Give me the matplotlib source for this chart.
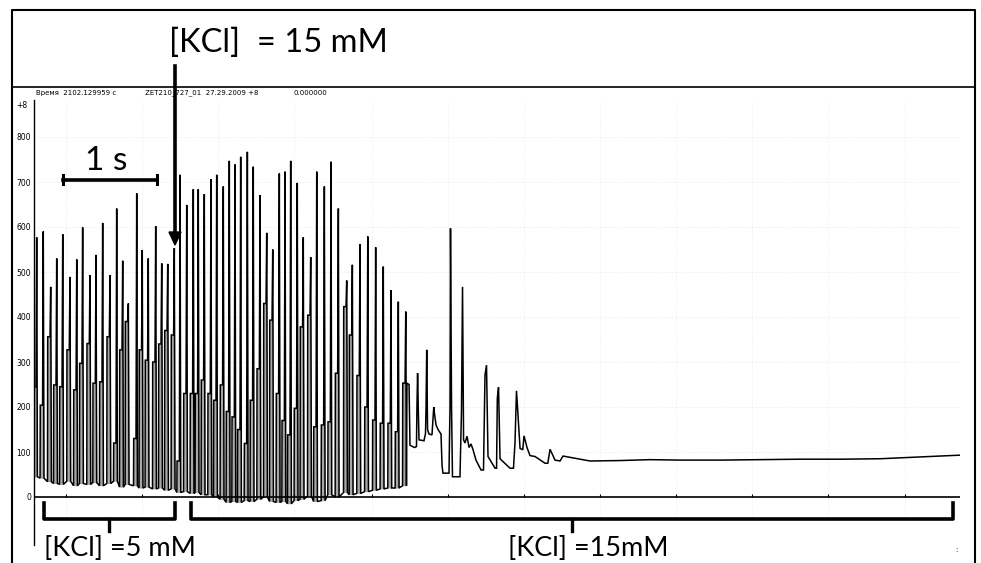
import matplotlib
matplotlib.use("Agg")
import matplotlib.pyplot as plt
from matplotlib.lines import Line2D
from matplotlib.patches import Polygon
import numpy as np

W, H = 981, 563

# ---------------- data ----------------
# spike times (s), peak, plateau (shoulder) and trough values
spike_t = [0.018, 0.088, 0.167, 0.231, 0.295, 0.372, 0.444, 0.507, 0.585, 0.649,
           0.720, 0.798, 0.869, 0.933, 0.993, 1.082, 1.141, 1.205, 1.284, 1.348,
           1.412, 1.482, 1.543, 1.614, 1.684, 1.737, 1.801, 1.872, 1.933, 2.003,
           2.067, 2.128, 2.188, 2.259, 2.322, 2.394, 2.465, 2.529, 2.599, 2.660,
           2.720, 2.790, 2.854, 2.933, 2.997, 3.078, 3.149, 3.227, 3.316, 3.376,
           3.457, 3.540, 3.624, 3.705, 3.787, 3.865, 3.944]
spike_peak = [577, 590, 467, 530, 584, 489, 528, 599, 493, 538,
              609, 493, 641, 525, 430, 675, 549, 530, 602, 519,
              518, 553, 716, 649, 684, 684, 673, 706, 716, 690,
              747, 739, 756, 767, 734, 671, 587, 550, 719, 723,
              747, 698, 577, 533, 723, 690, 745, 641, 481, 516,
              562, 579, 555, 512, 460, 434, 412]
spike_shoulder = [245, 204, 356, 249, 245, 327, 238, 297, 341, 253,
                  256, 356, 120, 327, 390, 130, 327, 304, 300, 340,
                  370, 360, 80, 230, 230, 230, 260, 230, 215, 249,
                  190, 178, 150, 119, 215, 285, 430, 393, 230, 170,
                  138, 197, 378, 404, 156, 160, 167, 275, 423, 360,
                  270, 200, 171, 164, 164, 145, 253]
spike_trough = [45, 42, 34, 30, 28, 35, 25, 30, 28, 32,
                25, 30, 35, 22, 28, 25, 20, 22, 18, 20,
                15, 18, 10, 12, 8, 10, 5, 5, 0, -5,
                -12, -10, -12, -8, -10, -5, 0, -10, -12, -10,
                -15, -8, -5, 2, -10, -8, 5, 0, 10, 5,
                8, 12, 15, 18, 20, 20, 25]

# decay after the burst (time s, value)
tail_t = [3.957, 3.979, 3.989, 4.037, 4.058, 4.063, 4.070, 4.077, 4.085, 4.138,
          4.154, 4.160, 4.167, 4.176, 4.191, 4.223, 4.234, 4.242, 4.250, 4.266,
          4.287, 4.319, 4.330, 4.340, 4.404, 4.415, 4.420, 4.431, 4.441, 4.521,
          4.537, 4.548, 4.559, 4.574, 4.596, 4.617, 4.638, 4.660, 4.691, 4.745,
          4.771, 4.787, 4.803, 4.819, 4.894, 4.910, 4.918, 4.931, 4.947, 5.053,
          5.090, 5.106, 5.122, 5.160, 5.189, 5.202, 5.234, 5.266, 5.319, 5.426,
          5.455, 5.479, 5.532, 5.585, 5.617, 5.904, 6.223, 6.543, 6.862, 7.287,
          7.713, 8.138, 8.564, 8.989, 9.415, 9.840]
tail_v = [253, 250, 115, 110, 112, 200, 275, 200, 127, 125,
          141, 200, 327, 150, 140, 138, 175, 200, 185, 160,
          150, 140, 70, 53, 53, 201, 597, 201, 45, 45,
          193, 467, 127, 120, 135, 110, 118, 105, 82, 60,
          60, 271, 293, 90, 64, 64, 219, 244, 85, 64,
          64, 120, 236, 108, 105, 136, 110, 92, 90, 75,
          75, 106, 82, 80, 91, 80, 81, 83, 82, 82,
          83, 84, 84, 85, 89, 93]

y_ticks = [0, 100, 200, 300, 400, 500, 600, 700, 800]
x_ticks = [0.33, 1.14, 1.95, 2.76, 3.58, 4.39, 5.20, 6.01, 6.82, 7.63, 8.44, 9.25]

# ---------------- build the trace polyline ----------------
u = 1.0 / 94.0          # one pixel in seconds (style)
tt, vv, bb = [], [], []
for t, p, s, tr in zip(spike_t, spike_peak, spike_shoulder, spike_trough):
    pts = [(t - 3.2 * u, tr), (t - 3.0 * u, s), (t - 0.7 * u, s),
           (t, p), (t + 0.7 * u, tr)]
    for x, y in pts:
        tt.append(x); vv.append(y); bb.append(tr)
n_spk = len(tt)
for x, y in zip(tail_t, tail_v):
    tt.append(x); vv.append(y); bb.append(y)
tt = np.array(tt); vv = np.array(vv); bb = np.array(bb)

# ---------------- figure ----------------
fig = plt.figure(figsize=(W / 100, H / 100), dpi=100)
fig.patch.set_facecolor("white")

def fx(px):
    return px / W

def fy(py):
    return 1 - py / H

ax = fig.add_axes([fx(34), fy(519.5), fx(960) - fx(34), fy(101) - fy(519.5)])
ax.set_xlim(-1 / 94, 9.84)
ax.set_ylim(-50, 880)
for sp in ax.spines.values():
    sp.set_visible(False)
ax.set_yticks(y_ticks)
ax.set_yticklabels([str(v) for v in y_ticks], fontsize=5.5, family="DejaVu Sans")
ax.set_xticks(x_ticks)
ax.set_xticklabels([])
ax.tick_params(axis="both", length=0, pad=2.2)
ax.grid(True, color="#e8e8e8", linestyle=":", linewidth=0.6)
ax.set_axisbelow(True)

ax.fill_between(tt[:n_spk + 1], vv[:n_spk + 1], bb[:n_spk + 1],
                color="#a8a8a8", linewidth=0)
ax.plot(tt, vv, color="black", linewidth=1.1, solid_joinstyle="miter")
ax.axhline(0, color="black", linewidth=1.2)
ax.vlines(x_ticks, 0, 7, color="black", linewidth=0.8)

# ---------------- decorations in pixel coordinates ----------------
def fline(xs, ys, lw=1.2, **kw):
    fig.add_artist(Line2D([fx(x) for x in xs], [fy(y) for y in ys],
                          color="black", linewidth=lw, transform=fig.transFigure, **kw))

# outer frame and header separator
fline([12, 12, 975, 975], [563, 10, 10, 563], lw=1.5)
fline([12, 975], [87, 87], lw=1.2)
# y axis line
fline([34, 34], [100, 545], lw=1.0)

# header texts
hdr = dict(fontsize=5, family="DejaVu Sans", va="center", ha="left")
fig.text(fx(36), fy(93), "Время  2102.129959 с", **hdr)
fig.text(fx(145), fy(93), "ZET210_727_01  27.29.2009 +8", **hdr)
fig.text(fx(293), fy(93), "0.000000", **hdr)
fig.text(fx(16), fy(105), "+8", fontsize=5.5, family="DejaVu Sans", va="center", ha="left")

# title with arrow
fig.text(fx(278), fy(43), "[KCl]  = 15 mM", fontsize=23.5, family="Lato",
         ha="center", va="center")
fline([175, 175], [66, 234], lw=2.6)
fig.add_artist(Polygon([[fx(169), fy(232)], [fx(181), fy(232)], [fx(175), fy(245)]],
                       closed=True, facecolor="black", edgecolor="black",
                       transform=fig.transFigure))

# 1 s scale bar
fig.text(fx(106), fy(161), "1 s", fontsize=24, family="Lato", ha="center", va="center")
fline([63, 157], [179.5, 179.5], lw=2.6)
fline([63, 63], [175, 184], lw=2.2)
fline([157, 157], [175, 184], lw=2.2)

# braces
fline([44, 44, 175, 175], [503, 519, 519, 503], lw=2.6, solid_joinstyle="round")
fline([109, 109], [519, 531], lw=2.4)
fline([191, 191, 953, 953], [503, 519, 519, 503], lw=2.6, solid_joinstyle="round")
fline([572, 572], [519, 531], lw=2.4)

fig.text(fx(120), fy(549), "[KCl] =5 mM", fontsize=19.5, family="Lato",
         ha="center", va="center")
fig.text(fx(588), fy(549), "[KCl] =15mM", fontsize=19.5, family="Lato",
         ha="center", va="center")
fig.text(fx(956), fy(550), ":", fontsize=5, family="DejaVu Sans", ha="center", va="center")

fig.savefig("out.png", dpi=100, facecolor="white")
